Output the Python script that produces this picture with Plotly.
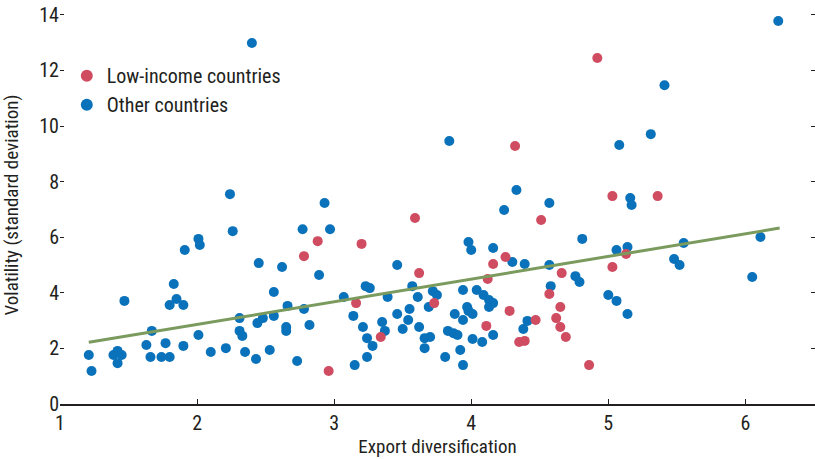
import plotly.graph_objects as go

# low-income countries (red)
low_x = [4.92, 4.32, 3.59, 4.51, 5.03, 5.36, 2.88, 2.78, 3.20, 3.62, 5.03, 5.13,
         4.66, 4.25, 4.16, 4.12, 3.73, 4.57, 4.65, 4.28, 4.47, 4.62, 4.65, 4.69,
         4.11, 4.35, 4.39, 4.86, 3.16, 3.34, 2.96]
low_y = [12.45, 9.28, 6.69, 6.62, 7.48, 7.48, 5.86, 5.32, 5.76, 4.71, 4.93, 5.40,
         4.71, 5.29, 5.04, 4.50, 3.63, 3.96, 3.49, 3.35, 3.02, 3.09, 2.77, 2.41,
         2.81, 2.23, 2.27, 1.40, 3.63, 2.41, 1.19]

# other countries (blue)
other_x = [1.21, 1.23, 1.39, 1.42, 1.45, 1.42, 1.47, 1.63, 1.66, 1.67, 1.74, 1.80,
           1.77, 1.80, 1.83, 1.85, 1.90, 1.90, 1.91, 2.01, 2.02, 2.01, 2.10, 2.21,
           2.24, 2.26, 2.31, 2.31, 2.33, 2.35, 2.43, 2.44, 2.48, 2.45, 2.40, 2.53,
           2.56, 2.56, 2.62, 2.65, 2.65, 2.66, 2.73, 2.77, 2.78, 2.82, 2.89, 2.93,
           2.97, 3.07, 3.14, 3.15, 3.21, 3.23, 3.26, 3.24, 3.28, 3.24, 3.39, 3.35,
           3.37, 3.46, 3.46, 3.50, 3.54, 3.55, 3.57, 3.61, 3.62, 3.66, 3.70, 3.66,
           3.69, 3.72, 3.75, 3.81, 3.84, 3.83, 3.87, 3.90, 3.88, 3.94, 3.94, 3.92,
           3.94, 3.97, 3.98, 4.01, 3.98, 4.00, 4.01, 4.04, 4.09, 4.13, 4.16, 4.13,
           4.08, 4.16, 4.16, 4.24, 4.30, 4.33, 4.38, 4.41, 4.39, 4.57, 4.57, 4.58,
           4.76, 4.79, 4.81, 5.00, 5.06, 5.06, 5.14, 5.08, 5.16, 5.17, 5.14, 5.31,
           5.41, 5.48, 5.52, 5.55, 6.05, 6.11, 6.24]
other_y = [1.76, 1.19, 1.76, 1.91, 1.76, 1.47, 3.71, 2.12, 1.69, 2.63, 1.69, 1.69,
           2.19, 3.56, 4.32, 3.78, 3.56, 2.09, 5.54, 5.94, 5.72, 2.48, 1.87, 2.01,
           7.55, 6.22, 3.09, 2.63, 2.45, 1.87, 1.62, 2.91, 3.09, 5.07, 12.99, 1.94,
           4.03, 3.17, 4.93, 2.77, 2.63, 3.53, 1.55, 6.29, 3.42, 2.84, 4.64, 7.23,
           6.29, 3.85, 3.17, 1.40, 2.77, 4.24, 4.17, 2.37, 2.09, 1.69, 3.85, 2.95,
           2.63, 5.00, 3.24, 2.70, 3.02, 3.42, 4.24, 3.85, 2.77, 2.37, 2.41, 2.01,
           3.49, 4.06, 3.92, 1.69, 9.46, 2.63, 2.55, 2.48, 3.24, 4.10, 3.02, 1.94,
           1.40, 3.49, 3.35, 3.24, 5.83, 5.54, 2.34, 4.10, 3.92, 3.74, 3.63, 3.49,
           2.23, 2.48, 5.61, 6.98, 5.11, 7.70, 2.70, 2.99, 5.04, 7.23, 5.00, 4.24,
           4.60, 4.39, 5.94, 3.92, 3.71, 5.54, 5.65, 9.32, 7.41, 7.16, 3.24, 9.71,
           11.47, 5.22, 5.00, 5.79, 4.57, 6.01, 13.78]

# fitted line, endpoints
trend_x = [1.21, 6.25]
trend_y = [2.22, 6.33]

x_ticks = [1, 2, 3, 4, 5, 6]
y_ticks = [0, 2, 4, 6, 8, 10, 12, 14]

FONT = "Liberation Sans Narrow, Arial Narrow, Roboto Condensed, sans-serif"
TEXT = "#231f20"

fig = go.Figure()
fig.add_trace(go.Scatter(
    x=other_x, y=other_y, mode="markers", name="Other countries",
    marker=dict(color="#0a72ba", size=10, line=dict(width=0)),
    legendrank=2,
))
fig.add_trace(go.Scatter(
    x=low_x, y=low_y, mode="markers", name="Low-income countries",
    marker=dict(color="#cf4c61", size=10, line=dict(width=0)),
    legendrank=1,
))
fig.add_trace(go.Scatter(
    x=trend_x, y=trend_y, mode="lines", showlegend=False,
    line=dict(color="#7b9a5e", width=3),
))

fig.update_layout(
    template="none",
    width=815, height=459,
    margin=dict(l=60, r=0, t=6, b=55),
    paper_bgcolor="white", plot_bgcolor="white",
    font=dict(family=FONT, size=20, color=TEXT),
    showlegend=True,
    legend=dict(
        x=0.009, y=0.874, xanchor="left", yanchor="top",
        bgcolor="rgba(0,0,0,0)", borderwidth=0,
        font=dict(size=20, color=TEXT),
        itemsizing="constant", tracegroupgap=0,
    ),
    xaxis=dict(
        range=[1, 6.508], tickvals=x_ticks, automargin=False,
        showline=True, linecolor="#231f20", linewidth=1.5,
        ticks="inside", ticklen=5, tickcolor="#231f20",
        tickfont=dict(size=20),
        showgrid=False, zeroline=False,
        title=dict(text="Export diversification", font=dict(size=19), standoff=2),
    ),
    yaxis=dict(
        range=[0, 14.32], tickvals=y_ticks, automargin=False,
        showline=False, mirror="ticks",
        ticks="inside", ticklen=4, tickcolor="#231f20",
        tickfont=dict(size=20),
        showgrid=False, zeroline=False,
        title=dict(text="Volatility (standard deviation)", font=dict(size=19), standoff=17),
    ),
)

# drop the default 8px page margin so the figure sits at the window corner
fig.write_html(
    "out.html",
    config={"displayModeBar": False},
    post_script="document.body.style.margin = '0';",
)
